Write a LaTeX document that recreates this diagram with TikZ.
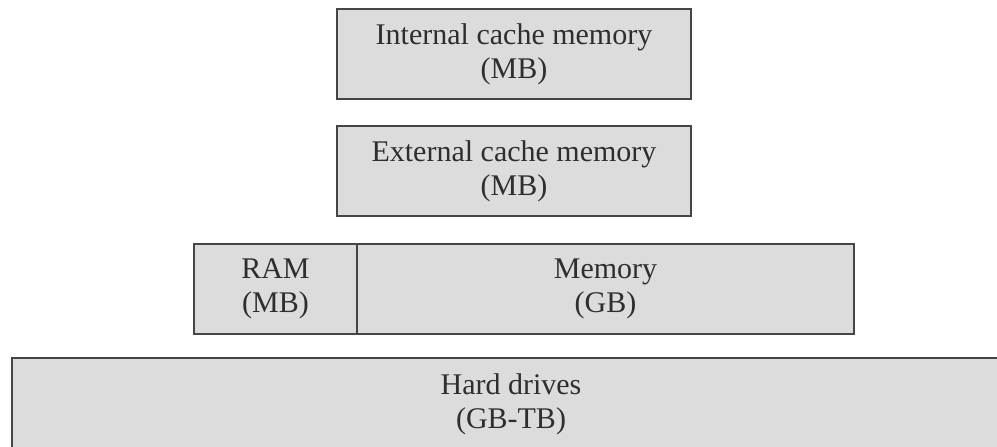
\documentclass[tikz,border=0pt]{standalone}
\usepackage{fontspec}
\setmainfont{Liberation Serif}
\definecolor{boxfill}{HTML}{DCDCDC}
\definecolor{boxline}{HTML}{454545}
\definecolor{tiertextcolor}{HTML}{2E2E2E}
\tikzset{
  tiertext/.style={inner sep=0pt, align=center,
    font=\fontsize{30}{34}\selectfont, text=tiertextcolor},
  tier/.style={tiertext, draw=boxline, fill=boxfill, line width=2pt,
    rectangle},
}
\begin{document}
\begin{tikzpicture}[x=1pt,y=-1pt]
\useasboundingbox (0,0) rectangle (997,447);
\fill[white] (0,0) rectangle (997,447);
\begin{scope}
\clip (0,0) rectangle (997,447);
\node[tier, minimum width=354pt, minimum height=90pt] (internal) at (514,54)
  {Internal cache memory\\(MB)};
\node[tier, minimum width=354pt, minimum height=90pt] (external) at (514,171)
  {External cache memory\\(MB)};
\node[tier, minimum width=163pt, minimum height=90pt] (ram) at (275.5,289)
  {RAM\\(MB)};
\node[tier, minimum width=497pt, minimum height=90pt] (memory) at (605.5,289)
  {Memory\\(GB)};
% the bottom tier runs past the right and lower edges
\node[tier, minimum width=1040pt, minimum height=110pt] (drives) at (532,413) {};
\node[tiertext] (drivesLabel) at (511,404) {Hard drives\\(GB-TB)};
\end{scope}
\end{tikzpicture}
\end{document}
